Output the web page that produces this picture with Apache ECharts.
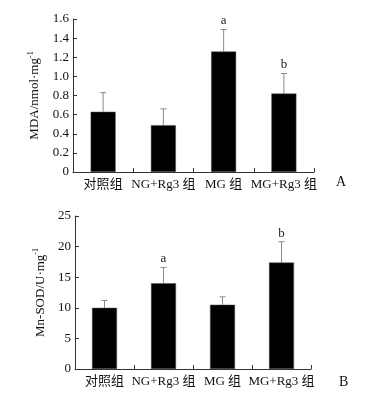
<!DOCTYPE html>
<html>
<head>
<meta charset="utf-8">
<script src="https://cdn.jsdelivr.net/npm/echarts@6/dist/echarts.min.js"></script>
<style>
html,body{margin:0;padding:0;background:#fff;}
#c{width:374px;height:397px;}
</style>
</head>
<body>
<div id="c"></div>
<script>
var categories = ['对照组', 'NG+Rg3 组', 'MG 组', 'MG+Rg3 组'];
var mdaMean = [0.63, 0.49, 1.26, 0.82];
var mdaErr = [0.20, 0.17, 0.23, 0.21];
var mdaSig = ['', '', 'a', 'b'];
var sodMean = [10.0, 14.0, 10.5, 17.4];
var sodErr = [1.2, 2.6, 1.3, 3.4];
var sodSig = ['', 'a', '', 'b'];
var mdaTicks = {min: 0, max: 1.6, interval: 0.2};
var sodTicks = {min: 0, max: 25, interval: 5};

var FONT = '"Liberation Serif", "Noto Sans CJK SC", serif';
var AXIS = '#333';
var ERR = '#8a8a8a';

function errSeries(gridIdx, mean, err, sig) {
  return {
    type: 'custom',
    xAxisIndex: gridIdx, yAxisIndex: gridIdx,
    z: 1,
    data: mean.map(function (m, i) { return [i, m, err[i]]; }),
    renderItem: function (params, api) {
      var x = api.value(0), m = api.value(1), e = api.value(2);
      var p0 = api.coord([x, m]);
      var p1 = api.coord([x, m + e]);
      var cap = 3;
      var children = [
        {type: 'line', shape: {x1: p0[0], y1: p0[1], x2: p1[0], y2: p1[1]}, style: {stroke: ERR, lineWidth: 1}},
        {type: 'line', shape: {x1: p1[0] - cap, y1: p1[1], x2: p1[0] + cap, y2: p1[1]}, style: {stroke: ERR, lineWidth: 1}}
      ];
      var s = sig[params.dataIndex];
      if (s) {
        children.push({type: 'text', style: {text: s, x: p1[0], y: p1[1] - 2, align: 'center', verticalAlign: 'bottom', font: '13px ' + FONT, fill: '#222'}});
      }
      return {type: 'group', children: children};
    }
  };
}

function xAx(gridIdx) {
  return {
    type: 'category', gridIndex: gridIdx, data: categories,
    axisLine: {lineStyle: {color: AXIS, width: 1}},
    axisTick: {show: true, inside: true, length: 4, lineStyle: {color: AXIS}},
    axisLabel: {color: '#111', fontSize: 13, fontFamily: FONT, margin: 6, interval: 0, hideOverlap: false},
    splitLine: {show: false}
  };
}
function yAx(gridIdx, t, nameMain, gap, fmt) {
  return {
    type: 'value', gridIndex: gridIdx, min: t.min, max: t.max, interval: t.interval,
    name: '{m|' + nameMain + '}{s|-1}',
    nameLocation: 'middle', nameGap: gap,
    nameTextStyle: {
      color: '#111', fontFamily: FONT, fontSize: 13,
      rich: {
        m: {fontSize: 13, fontFamily: FONT, color: '#111', lineHeight: 16},
        s: {fontSize: 8, fontFamily: FONT, color: '#111', verticalAlign: 'top', lineHeight: 16, padding: [0, 0, 7, 0]}
      }
    },
    axisLine: {show: true, lineStyle: {color: AXIS, width: 1}},
    axisTick: {show: true, inside: true, length: 4, lineStyle: {color: AXIS}},
    axisLabel: {color: '#111', fontSize: 13, fontFamily: FONT, margin: 4, formatter: fmt},
    splitLine: {show: false}
  };
}

var chart = echarts.init(document.getElementById('c'), null, {renderer: 'canvas'});
chart.setOption({
  backgroundColor: '#fff',
  animation: false,
  grid: [
    {left: 73, top: 19, width: 241, height: 153},
    {left: 75, top: 216, width: 236, height: 153}
  ],
  xAxis: [xAx(0), xAx(1)],
  yAxis: [
    yAx(0, mdaTicks, 'MDA/nmol·mg', 29, function (v) { return v === 0 ? '0' : v.toFixed(1); }),
    yAx(1, sodTicks, 'Mn-SOD/U·mg', 26, function (v) { return String(v); })
  ],
  series: [
    {type: 'bar', xAxisIndex: 0, yAxisIndex: 0, data: mdaMean, barWidth: 25,
      itemStyle: {color: '#000', borderColor: '#555', borderWidth: 0.5}, z: 2},
    errSeries(0, mdaMean, mdaErr, mdaSig),
    {type: 'bar', xAxisIndex: 1, yAxisIndex: 1, data: sodMean, barWidth: 25,
      itemStyle: {color: '#000', borderColor: '#555', borderWidth: 0.5}, z: 2},
    errSeries(1, sodMean, sodErr, sodSig)
  ],
  graphic: [
    {type: 'text', left: 336, top: 175, style: {text: 'A', font: '14px ' + FONT, fill: '#111'}},
    {type: 'text', left: 339, top: 375, style: {text: 'B', font: '14px ' + FONT, fill: '#111'}}
  ]
});
</script>
</body>
</html>
